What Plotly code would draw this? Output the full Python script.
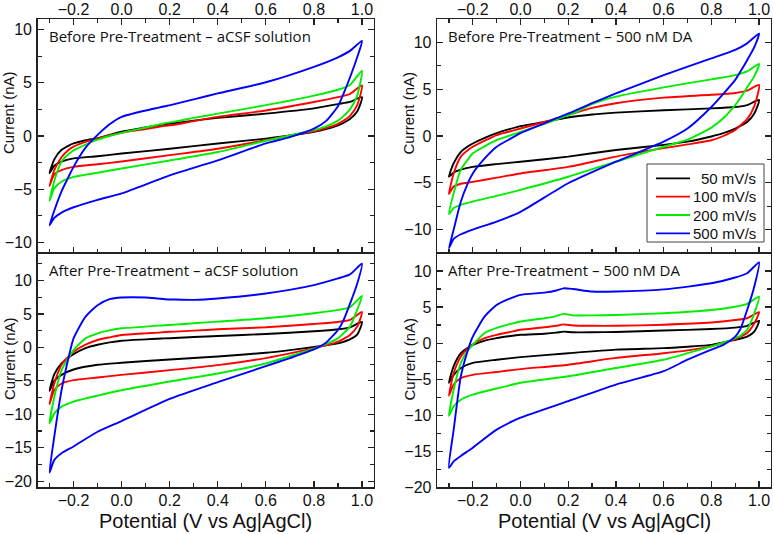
import plotly.graph_objects as go

# Potential grids (V vs Ag|AgCl) for forward (upper) and reverse (lower) branches
UP_X = [-0.3, -0.28, -0.25, -0.22, -0.2, -0.15, -0.1, -0.05, 0.0, 0.1, 0.15, 0.18, 0.22, 0.3, 0.4, 0.6, 0.8, 0.9, 0.95, 1.0]
DOWN_X = [1.0, 0.98, 0.95, 0.92, 0.9, 0.85, 0.8, 0.7, 0.6, 0.4, 0.2, 0.0, -0.1, -0.2, -0.25, -0.28, -0.3]

RATES = ["50 mV/s", "100 mV/s", "200 mV/s", "500 mV/s"]
COLORS = ["#000000", "#ff0000", "#00ee00", "#0000ff"]

# ---- Before Pre-Treatment - aCSF solution (nA)
TL_50_UP = [-3.5, -2.2, -1.3, -0.9, -0.7, -0.4, -0.2, 0.1, 0.4, 0.8, 1.0, 1.1, 1.2, 1.45, 1.7, 2.1, 2.6, 3.0, 3.2, 3.65]
TL_50_DN = [3.65, 2.3, 1.6, 1.2, 1.0, 0.65, 0.4, 0.05, -0.25, -0.7, -1.2, -1.65, -1.9, -2.1, -2.4, -2.8, -3.5]
TL_100_UP = [-4.7, -3.2, -2.0, -1.3, -1.0, -0.55, -0.25, 0.05, 0.3, 0.65, 0.85, 0.95, 1.05, 1.4, 1.8, 2.4, 3.2, 3.65, 3.95, 4.75]
TL_100_DN = [4.75, 2.9, 1.9, 1.4, 1.15, 0.75, 0.45, 0.05, -0.4, -1.2, -1.8, -2.4, -2.65, -2.9, -3.2, -3.6, -4.7]
TL_200_UP = [-6.1, -4.2, -2.4, -1.7, -1.35, -0.8, -0.35, 0.0, 0.3, 0.8, 1.05, 1.2, 1.35, 1.7, 2.1, 2.9, 3.8, 4.35, 4.8, 6.15]
TL_200_DN = [6.15, 3.8, 2.5, 1.8, 1.45, 0.9, 0.55, 0.05, -0.45, -1.5, -2.3, -3.05, -3.45, -3.85, -4.3, -4.9, -6.1]
TL_500_UP = [-8.4, -7.0, -5.2, -3.8, -2.9, -1.1, 0.1, 1.1, 1.8, 2.4, 2.65, 2.8, 3.0, 3.45, 4.0, 5.05, 6.5, 7.4, 8.0, 8.95]
TL_500_DN = [8.95, 7.4, 5.5, 3.8, 2.8, 1.4, 0.7, -0.1, -0.7, -2.3, -3.7, -5.4, -6.0, -6.7, -7.2, -7.7, -8.4]

# ---- Before Pre-Treatment - 500 nM DA
TR_50_UP = [-4.35, -2.9, -1.7, -1.1, -0.8, -0.2, 0.3, 0.7, 1.05, 1.5, 1.75, 1.9, 2.05, 2.3, 2.5, 2.75, 2.95, 3.1, 3.3, 3.85]
TR_50_DN = [3.85, 2.4, 1.5, 1.05, 0.8, 0.3, -0.05, -0.6, -0.95, -1.5, -2.2, -2.75, -3.0, -3.3, -3.6, -3.9, -4.35]
TR_100_UP = [-6.2, -4.0, -2.2, -1.5, -1.15, -0.5, 0.1, 0.45, 0.8, 1.5, 1.85, 2.1, 2.4, 3.0, 3.5, 4.1, 4.4, 4.6, 4.85, 5.45]
TR_100_DN = [5.45, 3.2, 1.8, 1.1, 0.65, 0.0, -0.45, -0.9, -1.3, -2.2, -3.3, -4.0, -4.45, -4.9, -5.1, -5.4, -6.2]
TR_200_UP = [-8.35, -6.1, -3.6, -2.5, -1.85, -1.1, -0.45, 0.0, 0.45, 1.3, 1.75, 2.05, 2.4, 3.4, 4.2, 5.2, 6.05, 6.5, 6.9, 7.7]
TR_200_DN = [7.7, 6.4, 5.2, 4.0, 3.3, 1.9, 0.9, -0.4, -1.15, -2.75, -4.35, -5.75, -6.4, -7.0, -7.35, -7.7, -8.35]
TR_500_UP = [-12.0, -10.0, -7.0, -5.0, -4.0, -2.4, -1.15, -0.4, 0.3, 1.35, 1.9, 2.2, 2.6, 3.5, 4.55, 6.5, 8.3, 9.2, 9.9, 10.95]
TR_500_DN = [10.95, 9.5, 8.1, 6.8, 6.0, 4.5, 3.1, 0.8, -0.6, -2.75, -5.05, -8.1, -9.15, -10.0, -10.5, -11.0, -12.0]

# ---- After Pre-Treatment - aCSF solution
BL_50_UP = [-6.5, -4.0, -2.4, -1.5, -1.0, -0.1, 0.4, 0.75, 1.0, 1.2, 1.3, 1.35, 1.4, 1.55, 1.7, 2.0, 2.4, 2.7, 3.0, 3.8]
BL_50_DN = [3.8, 1.9, 1.2, 0.8, 0.6, 0.3, 0.05, -0.4, -0.8, -1.35, -1.8, -2.3, -2.6, -3.3, -4.1, -5.0, -6.5]
BL_100_UP = [-8.45, -5.4, -2.6, -1.3, -0.65, 0.4, 1.1, 1.5, 1.85, 2.1, 2.2, 2.3, 2.35, 2.5, 2.7, 3.0, 3.5, 3.8, 4.1, 5.3]
BL_100_DN = [5.3, 3.1, 1.85, 1.2, 0.85, 0.3, -0.1, -0.9, -1.6, -2.65, -3.4, -4.1, -4.5, -4.9, -5.4, -6.4, -8.45]
BL_200_UP = [-11.35, -7.4, -3.4, -1.5, -0.4, 1.35, 2.1, 2.55, 2.85, 3.1, 3.25, 3.3, 3.4, 3.6, 3.85, 4.35, 5.1, 5.6, 6.0, 7.7]
BL_200_DN = [7.7, 5.6, 3.1, 2.0, 1.35, 0.5, -0.2, -1.3, -2.4, -3.9, -5.1, -6.4, -7.2, -8.1, -8.85, -9.85, -11.35]
BL_500_UP = [-18.7, -13.3, -6.4, -1.4, 1.35, 4.6, 6.3, 7.2, 7.45, 7.45, 7.3, 7.2, 7.15, 7.1, 7.3, 8.05, 9.3, 10.3, 10.9, 12.5]
BL_500_DN = [12.5, 9.5, 6.5, 3.8, 2.6, 0.7, -0.3, -1.6, -2.8, -5.2, -7.7, -11.0, -12.6, -14.8, -15.8, -16.8, -18.7]

# ---- After Pre-Treatment - 500 nM DA
BR_50_UP = [-5.5, -3.2, -1.4, -0.6, -0.25, 0.35, 0.7, 0.95, 1.15, 1.3, 1.45, 1.6, 1.5, 1.5, 1.55, 1.75, 1.95, 2.15, 2.4, 3.1]
BR_50_DN = [3.1, 1.6, 0.9, 0.6, 0.45, 0.1, -0.25, -0.5, -0.7, -0.9, -1.4, -1.95, -2.3, -2.75, -3.45, -4.4, -5.5]
BR_100_UP = [-7.3, -4.15, -1.85, -0.7, -0.15, 0.7, 1.15, 1.5, 1.85, 2.2, 2.4, 2.6, 2.45, 2.4, 2.4, 2.55, 2.85, 3.2, 3.45, 4.3]
BR_100_DN = [4.3, 2.75, 1.4, 0.85, 0.55, 0.05, -0.45, -1.0, -1.4, -2.05, -3.0, -3.6, -4.0, -4.4, -4.85, -5.75, -7.3]
BR_200_UP = [-10.1, -6.45, -2.75, -1.0, -0.25, 1.4, 2.1, 2.6, 3.0, 3.45, 3.75, 4.05, 3.85, 3.85, 3.9, 4.15, 4.6, 5.05, 5.45, 6.45]
BR_200_DN = [6.45, 4.15, 1.85, 1.0, 0.7, 0.05, -0.45, -1.4, -2.3, -3.45, -4.6, -5.5, -6.3, -7.15, -7.85, -8.75, -10.1]
BR_500_UP = [-17.3, -12.0, -4.6, -0.9, 0.9, 3.7, 5.3, 6.1, 6.7, 7.0, 7.3, 7.6, 7.5, 7.15, 7.15, 7.45, 8.3, 9.1, 9.7, 11.2]
BR_500_DN = [11.2, 7.85, 4.6, 1.85, 0.9, -0.25, -0.9, -2.3, -3.9, -5.75, -8.05, -10.35, -12.0, -14.5, -15.65, -16.4, -17.3]

PANEL_TITLES = ["Before Pre-Treatment \u2013 aCSF solution", "Before Pre-Treatment \u2013 500 nM DA",
                "After Pre-Treatment \u2013 aCSF solution", "After Pre-Treatment \u2013 500 nM DA"]
Y_RANGES = [[-11, 11], [-12.5, 12.5], [-20.9, 14.1], [-20, 12.5]]

PANELS = [
    [(TL_50_UP, TL_50_DN), (TL_100_UP, TL_100_DN), (TL_200_UP, TL_200_DN), (TL_500_UP, TL_500_DN)],
    [(TR_50_UP, TR_50_DN), (TR_100_UP, TR_100_DN), (TR_200_UP, TR_200_DN), (TR_500_UP, TR_500_DN)],
    [(BL_50_UP, BL_50_DN), (BL_100_UP, BL_100_DN), (BL_200_UP, BL_200_DN), (BL_500_UP, BL_500_DN)],
    [(BR_50_UP, BR_50_DN), (BR_100_UP, BR_100_DN), (BR_200_UP, BR_200_DN), (BR_500_UP, BR_500_DN)],
]

W, H = 774, 534
# panel pixel boxes (left, right, top, bottom)
BOXES = [(37.5, 374, 19, 253), (437, 771, 19, 253), (37.5, 374, 253, 487.3), (437, 771, 253, 487.3)]
YTITLE_CENTER = [113, 113, 359, 359]

FONT = "Arial, Liberation Sans, sans-serif"
TICK_SIZE = 16
fig = go.Figure()

for p, curves in enumerate(PANELS):
    suffix = "" if p == 0 else str(p + 1)
    for i, (up, dn) in enumerate(curves):
        fig.add_trace(go.Scatter(
            x=UP_X + DOWN_X[1:], y=up + dn[1:],
            mode="lines", name=RATES[i],
            line=dict(color=COLORS[i], width=1.9, shape="spline", smoothing=0.6),
            xaxis="x" + suffix, yaxis="y" + suffix,
            showlegend=False, hoverinfo="x+y+name",
        ))

layout = dict(width=W, height=H, margin=dict(l=0, r=0, t=0, b=0, autoexpand=False),
              paper_bgcolor="white", plot_bgcolor="white", showlegend=False,
              font=dict(family=FONT, size=15, color="#111"))

annotations = []
shapes = []
for p in range(4):
    l, r, t, b = BOXES[p]
    suffix = "" if p == 0 else str(p + 1)
    top = p < 2
    xa = dict(domain=[l / W, r / W], range=[-0.35, 1.05], anchor="y" + suffix,
              side="top" if top else "bottom", automargin=False,
              showline=True, linecolor="#222", linewidth=1.3,
              mirror="allticks" if top else True,
              ticks="inside", ticklen=6, tickwidth=1.2, tickcolor="#222",
              tick0=0, dtick=0.2, tickformat=".1f",
              ticklabelstandoff=-4 if top else -2,
              minor=dict(ticks="inside", ticklen=4, tickwidth=1.2, tickcolor="#222", dtick=0.1, tick0=0),
              showgrid=False, zeroline=False,
              tickfont=dict(family=FONT, size=TICK_SIZE, color="#111"))
    ya = dict(domain=[1 - b / H, 1 - t / H], range=Y_RANGES[p], anchor="x" + suffix,
              automargin=False,
              showline=True, linecolor="#222", linewidth=1.3, mirror="allticks",
              ticks="inside", ticklen=6, tickwidth=1.2, tickcolor="#222",
              tick0=0, dtick=5, ticklabelstandoff=1,
              minor=dict(ticks="inside", ticklen=4, tickwidth=1.2, tickcolor="#222", dtick=2.5, tick0=0),
              showgrid=False, zeroline=False,
              tickfont=dict(family=FONT, size=TICK_SIZE, color="#111"))
    layout["xaxis" + suffix] = xa
    layout["yaxis" + suffix] = ya

    annotations.append(dict(text=PANEL_TITLES[p], xref="paper", yref="paper",
                            x=(l + 9) / W, y=1 - (t + 17) / H, xanchor="left", yanchor="middle",
                            showarrow=False, font=dict(family="Open Sans, Noto Sans, sans-serif", size=15, color="#111")))
    annotations.append(dict(text="Current (nA)", xref="paper", yref="paper",
                            x=(l - 28.5) / W, y=1 - YTITLE_CENTER[p] / H, xanchor="center", yanchor="middle",
                            textangle=-90, showarrow=False, font=dict(family=FONT, size=15, color="#111")))
    if not top:
        annotations.append(dict(text="Potential (V vs Ag|AgCl)", xref="paper", yref="paper",
                                x=(l + r) / 2 / W, y=1 - 521 / H, xanchor="center", yanchor="middle",
                                showarrow=False, font=dict(family=FONT, size=20, color="#111")))

# legend box (top-right panel)
LEG_L, LEG_R, LEG_T, LEG_B = 647, 764, 164, 242
shapes.append(dict(type="rect", xref="paper", yref="paper",
                   x0=LEG_L / W, x1=LEG_R / W, y0=1 - LEG_B / H, y1=1 - LEG_T / H,
                   line=dict(color="#444", width=1), fillcolor="white", layer="above"))
for i, (name, col) in enumerate(zip(RATES, COLORS)):
    yy = 1 - (178.3 + 18.35 * i) / H
    shapes.append(dict(type="line", xref="paper", yref="paper",
                       x0=656 / W, x1=690 / W, y0=yy, y1=yy,
                       line=dict(color=col, width=1.8), layer="above"))
    annotations.append(dict(text=name, xref="paper", yref="paper", x=758 / W, y=yy,
                            xanchor="right", yanchor="middle", showarrow=False,
                            font=dict(family=FONT, size=15, color="#111")))

layout["annotations"] = annotations
layout["shapes"] = shapes
fig.update_layout(**layout)

fig.write_html("out.html", config={"displayModeBar": False, "staticPlot": True},
               post_script="document.body.style.margin='0';document.body.style.overflow='hidden';")
